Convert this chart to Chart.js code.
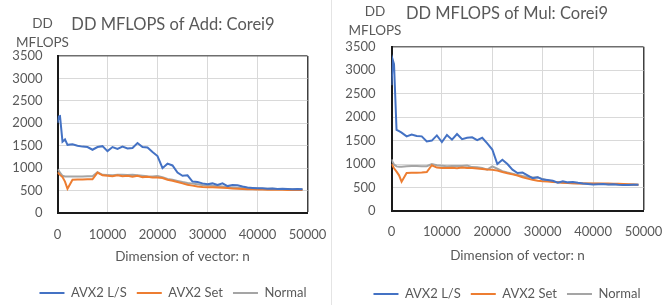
<!DOCTYPE html>
<html>
<head>
<meta charset="utf-8">
<script src="https://cdn.jsdelivr.net/npm/chart.js@4/dist/chart.umd.min.js"></script>
<style>
  body { margin: 0; background: #fff; }
  .wrap { position: absolute; top: 0; width: 331px; height: 305px; overflow: hidden; }
  #left { left: 0; }
  #right { left: 331px; border-left: 1px solid #e4e4e4; }
</style>
</head>
<body>
<div class="wrap" id="left"><canvas id="addChart" width="342" height="305"></canvas></div>
<div class="wrap" id="right"><canvas id="mulChart" width="346" height="305"></canvas></div>
<script>
// vector dimension n
const dims = [0, 250, 500, 1000, 1500, 2000, 3000, 4000, 5000, 6000, 7000, 8000, 9000, 10000,
  11000, 12000, 13000, 14000, 15000, 16000, 17000, 18000, 19000, 20000, 21000, 22000, 23000,
  24000, 25000, 26000, 27000, 28000, 29000, 30000, 31000, 32000, 33000, 34000, 35000, 36000,
  37000, 38000, 39000, 40000, 41000, 42000, 43000, 44000, 45000, 46000, 47000, 48000, 49000];

const seriesNames = ["AVX2 L/S", "AVX2 Set", "Normal"];
const xTicks = [0, 10000, 20000, 30000, 40000, 50000];
const yTicks = [0, 500, 1000, 1500, 2000, 2500, 3000, 3500];

// Add
const addLS = [2010, 2150, 2160, 1590, 1640, 1520, 1530, 1500, 1480, 1470, 1410, 1470, 1490, 1380,
  1470, 1430, 1480, 1440, 1450, 1560, 1470, 1460, 1360, 1270, 1000, 1100, 1060,
  900, 830, 840, 700, 690, 660, 640, 660, 625, 660, 600, 625, 620,
  590, 570, 560, 550, 550, 540, 545, 535, 540, 535, 530, 535, 530];
const addSet = [900, 880, 850, 800, 700, 540, 740, 745, 745, 750, 750, 900, 840, 830,
  820, 840, 820, 830, 810, 830, 800, 810, 790, 790, 780, 740, 720,
  690, 660, 630, 610, 590, 580, 575, 575, 570, 565, 555, 545, 540,
  535, 530, 530, 525, 525, 520, 520, 520, 518, 515, 515, 512, 510];
const addNormal = [970, 950, 900, 830, 815, 815, 815, 815, 815, 820, 820, 910, 850, 845,
  840, 850, 850, 845, 850, 840, 830, 820, 815, 825, 800, 760, 740,
  715, 690, 670, 655, 640, 625, 615, 610, 600, 590, 575, 570, 562,
  555, 550, 548, 545, 543, 540, 538, 535, 535, 532, 530, 530, 528];

// Mul
const mulLS = [2680, 3220, 3130, 1730, 1700, 1670, 1590, 1630, 1600, 1590, 1480, 1500, 1610, 1470,
  1620, 1520, 1640, 1530, 1560, 1570, 1510, 1560, 1440, 1310, 1000, 1090, 1000,
  880, 810, 820, 760, 700, 720, 670, 660, 645, 605, 635, 610, 620,
  600, 585, 575, 565, 570, 575, 565, 570, 560, 555, 555, 560, 560];
const mulSet = [1000, 960, 910, 840, 760, 625, 810, 815, 815, 820, 830, 975, 925, 915,
  915, 920, 910, 925, 915, 915, 905, 895, 885, 880, 860, 830, 805,
  780, 755, 720, 690, 665, 645, 635, 628, 620, 610, 600, 595, 590,
  588, 588, 588, 588, 585, 585, 585, 582, 578, 574, 570, 565, 560];
const mulNormal = [1100, 1040, 990, 950, 945, 945, 955, 960, 960, 955, 955, 1000, 975, 965,
  955, 960, 960, 960, 970, 935, 930, 915, 880, 950, 900, 850, 820,
  795, 770, 745, 725, 715, 720, 680, 650, 630, 610, 600, 595, 590,
  589, 588, 585, 580, 578, 575, 572, 570, 568, 566, 564, 562, 560];

const colors = ["#4472C4", "#ED7D31", "#A5A5A5"];
const textColor = "#595959";
Chart.defaults.font.family = "Lato, 'Open Sans', sans-serif";
Chart.defaults.color = textColor;

// two-line horizontal y axis title above the tick labels
const yTitlePlugin = {
  id: "yTitle",
  afterDraw(chart, args, opts) {
    const { ctx, chartArea } = chart;
    ctx.save();
    ctx.font = "13.5px Lato, sans-serif";
    ctx.fillStyle = textColor;
    ctx.textAlign = "center";
    ctx.textBaseline = "middle";
    ctx.fillText(opts.lines[0], chartArea.left - opts.dx, chartArea.top - opts.dy1);
    ctx.fillText(opts.lines[1], chartArea.left - opts.dx, chartArea.top - opts.dy2);
    ctx.restore();
  }
};

function makeChart(id, title, series, lay) {
  const datasets = series.map((vals, i) => ({
    label: seriesNames[i],
    data: vals.map((v, j) => ({ x: dims[j], y: v })),
    borderColor: colors[i],
    backgroundColor: colors[i],
    borderWidth: 2,
    pointRadius: 0,
    tension: 0,
    fill: false,
    yAxisID: "y"
  }));

  return new Chart(document.getElementById(id), {
    type: "line",
    data: { datasets },
    plugins: [yTitlePlugin],
    options: {
      responsive: false,
      animation: false,
      layout: { padding: { left: 4, right: 0, top: 0, bottom: lay.padB } },
      plugins: {
        title: {
          display: true,
          text: title,
          color: textColor,
          font: { size: 16.5, weight: "normal" },
          padding: { top: lay.titleTop, bottom: lay.titleBottom }
        },
        legend: {
          position: "bottom",
          labels: {
            boxWidth: 25,
            boxHeight: 2,
            padding: 10,
            color: textColor,
            font: { size: 13 },
            generateLabels(chart) {
              return Chart.defaults.plugins.legend.labels.generateLabels(chart)
                .map(l => Object.assign(l, { lineWidth: 0 }));
            }
          }
        },
        tooltip: { enabled: false },
        yTitle: { lines: ["DD", "MFLOPS"], dx: lay.dx, dy1: lay.dy1, dy2: lay.dy2 }
      },
      scales: {
        x: {
          type: "linear",
          min: 0,
          max: 50000,
          afterBuildTicks: s => { s.ticks = xTicks.map(v => ({ value: v })); },
          afterFit: s => { s.height = lay.xHeight; },
          ticks: { padding: lay.xTickPad, font: { size: 13 }, color: textColor, maxRotation: 0,
            callback: v => String(v) },
          grid: {
            drawTicks: false,
            color: c => c.tick && c.tick.value === 50000 ? "#404040" : "#d9d9d9",
            lineWidth: c => c.tick && c.tick.value === 50000 ? 1.5 : 1
          },
          border: { display: true, color: "#1a1a1a", width: 2 },
          title: {
            display: true,
            text: "Dimension of vector: n",
            color: textColor,
            font: { size: 13.5 },
            padding: { top: 0, bottom: lay.xTitlePad }
          }
        },
        y: {
          min: 0,
          max: 3500,
          afterBuildTicks: s => { s.ticks = yTicks.map(v => ({ value: v })); },
          afterFit: s => { s.width = lay.yWidth; },
          ticks: { padding: lay.yTickPad, font: { size: 13 }, color: textColor,
            callback: v => String(v) },
          grid: {
            drawTicks: false,
            color: c => c.tick && c.tick.value === 3500 ? "#6e6e6e" : "#d9d9d9",
            lineWidth: c => c.tick && c.tick.value === 3500 ? 1.5 : 1
          },
          border: { display: true, color: "#1a1a1a", width: 2 }
        },
        // empty right-hand axis: only reserves space so title and legend centre like the original
        yPad: {
          position: "right",
          display: true,
          min: 0,
          max: 1,
          ticks: { display: false },
          grid: { display: false },
          border: { display: false },
          afterFit: s => { s.width = lay.padAxis; }
        }
      }
    }
  });
}

makeChart("addChart", "DD MFLOPS of Add: Corei9", [addLS, addSet, addNormal], {
  padB: -4.5, titleTop: 15.1, titleBottom: 21.1,
  xHeight: 63.5, xTickPad: 14.2, xTitlePad: 11.4, yWidth: 53.5, yTickPad: 15,
  padAxis: 34.5, dx: 15, dy1: 32, dy2: 13
});
makeChart("mulChart", "DD MFLOPS of Mul: Corei9", [mulLS, mulSet, mulNormal], {
  padB: -5.5, titleTop: 4.1, titleBottom: 22.8,
  xHeight: 66.5, xTickPad: 13.2, xTitlePad: 13.4, yWidth: 55.5, yTickPad: 16,
  padAxis: 34.5, dx: 16.5, dy1: 34.7, dy2: 15.7
});
</script>
</body>
</html>
